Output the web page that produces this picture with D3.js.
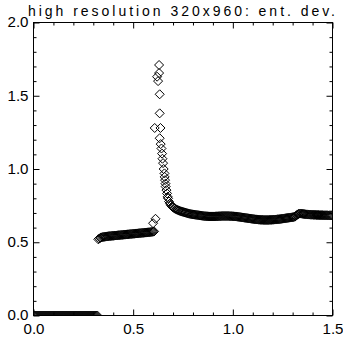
<!DOCTYPE html>
<html><head><meta charset="utf-8">
<script src="https://cdn.jsdelivr.net/npm/d3@7"></script>
<style>body{margin:0;background:#fff}svg{display:block}</style></head>
<body>
<svg id="c" width="343" height="344"></svg>
<script>
// ---- data ----
const title = "high resolution 320x960: ent. dev.";
const xTicks = [0.0, 0.5, 1.0, 1.5];
const yTicks = [0.0, 0.5, 1.0, 1.5, 2.0];
const gridStep = 0.005;
// segment A: x = 0 .. 0.32
const segAStart = 0.0;
const segA = [0,0,0,0,0,0,0,0,0,0, 0,0,0,0,0,0,0,0,0,0, 0,0,0,0,0,0,0,0,0,0,
              0,0,0,0,0,0,0,0,0,0, 0,0,0,0,0,0,0,0,0,0, 0,0,0,0,0,0,0,0,0,0, 0,0,0,0,0];
// segment B: x = 0.325 .. 0.605
const segBStart = 0.325;
const segB = [0.520,0.525,0.530,0.533,0.535,0.536,0.537,0.538,0.539,0.540,
              0.541,0.542,0.542,0.543,0.544,0.544,0.545,0.546,0.546,0.547,
              0.548,0.548,0.549,0.550,0.550,0.551,0.552,0.552,0.553,0.554,
              0.554,0.555,0.556,0.556,0.557,0.558,0.558,0.559,0.560,0.560,
              0.561,0.562,0.562,0.563,0.564,0.564,0.565,0.566,0.566,0.567,
              0.568,0.568,0.569,0.570,0.571,0.572,0.574];
// peak region: irregular points
const peakX = [0.600,0.612,0.608,0.637,0.620,0.625,0.630,0.630,0.633,0.633,
               0.633,0.638,0.642,0.645,0.647,0.650,0.653,0.657,0.658,0.660,
               0.662,0.663,0.667,0.670,0.673];
const peakY = [0.63,0.66,1.28,1.28,1.63,1.60,1.71,1.655,1.51,1.38,
               1.21,1.17,1.14,1.105,1.07,1.04,1.00,0.97,0.946,0.924,
               0.90,0.88,0.856,0.833,0.81];
// segment D: x = 0.675 .. 1.5
const segDStart = 0.675;
const segD = [0.800,0.778,0.763,0.752,0.744,0.738,0.733,0.729,0.725,0.722,0.719,0.716,0.713,0.711,0.709,0.707,
              0.705,0.703,0.701,0.699,0.697,0.695,0.694,0.692,0.691,0.690,
              0.689,0.688,0.687,0.686,0.685,0.684,0.683,0.682,0.681,0.680,
              0.679,0.678,0.678,0.677,0.677,0.676,0.676,0.676,0.676,0.676,
              0.676,0.676,0.677,0.677,0.677,0.678,0.678,0.678,0.679,0.679,
              0.679,0.679,0.679,0.679,0.679,0.679,0.678,0.678,0.678,0.677,
              0.677,0.676,0.676,0.675,0.674,0.673,0.672,0.671,0.670,0.669,
              0.668,0.667,0.666,0.665,0.664,0.663,0.662,0.661,0.660,0.659,
              0.658,0.657,0.656,0.656,0.655,0.654,0.654,0.653,0.653,0.653,
              0.652,0.652,0.652,0.652,0.652,0.652,0.653,0.653,0.653,0.654,
              0.654,0.655,0.655,0.656,0.657,0.657,0.658,0.659,0.660,0.661,
              0.662,0.663,0.664,0.665,0.666,0.667,0.668,0.669,0.670,0.671,
              0.672,0.674,0.678,0.684,0.690,0.694,0.696,0.696,0.695,0.694,
              0.693,0.692,0.691,0.690,0.690,0.689,0.689,0.688,0.688,0.688,
              0.687,0.687,0.687,0.686,0.686,0.686,0.685,0.685,0.685,0.685,
              0.684,0.684,0.684,0.684,0.684,0.683,0.683,0.683,0.683,0.683];

// ---- build points ----
const pts = [];
segA.forEach((v,i)=>pts.push([segAStart + i*gridStep, v]));
segB.forEach((v,i)=>pts.push([segBStart + i*gridStep, v]));
peakX.forEach((x,i)=>pts.push([x, peakY[i]]));
segD.forEach((v,i)=>pts.push([segDStart + i*gridStep, v]));

// ---- layout ----
const L = 33.5, R = 332.5, T = 22.5, B = 315.5;
const x = d3.scaleLinear().domain([0,1.5]).range([L,R]);
const y = d3.scaleLinear().domain([0,2]).range([B,T]);
const svg = d3.select("#c");
const font = "'Liberation Sans', Arial, sans-serif";

svg.append("defs").append("clipPath").attr("id","clip")
  .append("rect").attr("x",L).attr("y",T).attr("width",R-L).attr("height",B-T);

// data: diamonds
const h = 4.5;
const diamond = `M0,${-h}L${h},0L0,${h}L${-h},0Z`;
svg.append("g").attr("clip-path","url(#clip)")
  .selectAll("path").data(pts).join("path")
  .attr("d", diamond)
  .attr("transform", d=>`translate(${x(d[0])},${y(d[1])})`)
  .attr("fill","none").attr("stroke","#000").attr("stroke-width",1);

// frame
svg.append("rect").attr("x",L).attr("y",T).attr("width",R-L).attr("height",B-T)
  .attr("fill","none").attr("stroke","#000").attr("stroke-width",1);

// ticks
const xMinor = d3.range(0,16).map(i=>i/10).filter(v=>!xTicks.some(t=>Math.abs(t-v)<1e-9));
const yMinor = d3.range(0,21).map(i=>i/10).filter(v=>!yTicks.some(t=>Math.abs(t-v)<1e-9));
function tickAxis(axisFn, scale, vals, size, tr){
  const g = svg.append("g").attr("transform",tr)
    .call(axisFn(scale).tickValues(vals).tickSize(size).tickSizeOuter(0).tickFormat(""));
  g.select(".domain").remove();
  g.selectAll("line").attr("stroke","#000").attr("stroke-width",1);
}
tickAxis(d3.axisBottom, x, xTicks, -6, `translate(0,${B})`);
tickAxis(d3.axisBottom, x, xMinor, -3, `translate(0,${B})`);
tickAxis(d3.axisTop, x, xTicks, -6, `translate(0,${T})`);
tickAxis(d3.axisTop, x, xMinor, -3, `translate(0,${T})`);
tickAxis(d3.axisLeft, y, yTicks, -6, `translate(${L},0)`);
tickAxis(d3.axisLeft, y, yMinor, -3, `translate(${L},0)`);
tickAxis(d3.axisRight, y, yTicks, -6, `translate(${R},0)`);
tickAxis(d3.axisRight, y, yMinor, -3, `translate(${R},0)`);

// labels
const fmt = d3.format(".1f");
const gx = svg.append("g").attr("transform",`translate(0,${B})`)
  .call(d3.axisBottom(x).tickValues(xTicks).tickSize(0).tickPadding(9).tickFormat(fmt));
gx.select(".domain").remove();
gx.selectAll("text").attr("font-family",font).attr("font-size",14).attr("fill","#000")
  .attr("textLength",21).attr("lengthAdjust","spacingAndGlyphs");
const gy = svg.append("g").attr("transform",`translate(${L},0)`)
  .call(d3.axisLeft(y).tickValues(yTicks).tickSize(0).tickPadding(5).tickFormat(fmt));
gy.select(".domain").remove();
gy.selectAll("text").attr("font-family",font).attr("font-size",14).attr("fill","#000")
  .attr("textLength",21).attr("lengthAdjust","spacingAndGlyphs");

// title
svg.append("text").attr("x",(28+335)/2).attr("y",16).attr("text-anchor","middle")
  .attr("font-family",font).attr("font-size",14).attr("fill","#000")
  .attr("textLength",307).attr("lengthAdjust","spacing").text(title);
</script>
</body></html>
